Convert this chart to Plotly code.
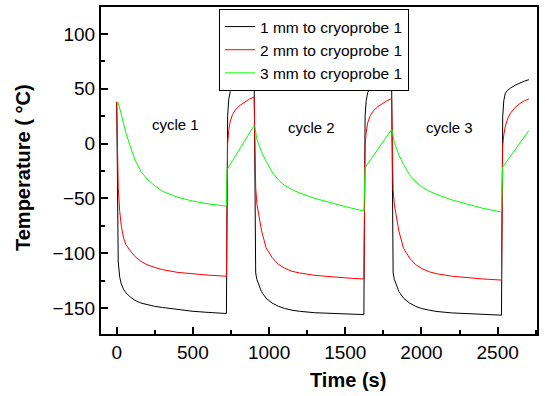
import plotly.graph_objects as go

# ---- Data ----
time_s = [
    # freeze, cycle 1
    0, 5, 10, 20, 30, 45, 60, 90, 120, 160, 200, 250, 300, 400, 500, 600, 720,
    # thaw 1
    724, 728, 735, 745, 760, 780, 810, 840, 870, 902,
    # freeze, cycle 2
    905, 908, 912, 920, 935, 950, 980, 1020, 1060, 1100, 1150, 1200, 1300, 1400, 1500, 1622,
    # thaw 2
    1626, 1630, 1637, 1647, 1662, 1682, 1712, 1742, 1772, 1804,
    # freeze, cycle 3
    1807, 1810, 1814, 1822, 1837, 1852, 1882, 1922, 1962, 2002, 2052, 2102, 2202, 2302, 2402, 2525,
    # thaw 3
    2529, 2533, 2540, 2550, 2565, 2585, 2615, 2645, 2675, 2705,
]

temp_1mm = [
    38, -60, -108, -122, -128, -133, -136, -140, -143, -145.5, -147, -148.5, -149.5, -151.5, -153, -154, -155,
    -60, 25, 40, 47.5, 51, 53.5, 55.5, 57, 58.2, 59.2,
    -40, -100, -118, -124, -130, -135, -141, -145.5, -148.3, -150.3, -152, -153, -154.3, -155, -155.5, -156,
    -60, 25, 39, 46.5, 50.5, 53, 55, 56.5, 57.5, 58.4,
    -42, -100, -118, -124, -130, -135, -141, -145.5, -148.5, -150.5, -152, -153.2, -154.5, -155.3, -156, -156.5,
    -60, 25, 39, 46, 48.5, 50.8, 53.3, 55.5, 57, 58.3,
]

temp_2mm = [
    38, 0, -40, -62, -75, -86, -92, -98, -103, -107.5, -110.5, -113, -115, -117.5, -119, -120, -121,
    -80, 0, 12, 20.5, 26.5, 31, 35, 38, 40.5, 42.6,
    0, -20, -40, -55, -68, -79, -95, -104, -110, -113.5, -116.5, -118, -120.2, -121.5, -122.5, -123.5,
    -80, -2, 10, 19, 25, 29.5, 33.5, 36.5, 39, 41,
    -2, -22, -42, -56, -69, -80, -95.5, -104.5, -110.5, -114, -117, -118.8, -121, -122.5, -123.5, -124.5,
    -80, -2, 8, 16, 22.5, 28, 33, 36.5, 39, 40.8,
]

temp_3mm = [
    38, 38, 37, 33, 27, 18, 10, -3, -15, -25.5, -32.5, -38.5, -43.5, -49, -52.5, -55, -57,
    -24, -22.8, -21, -18.8, -15.5, -11, -4.3, 2.4, 9, 16.5,
    16, 14, 10, 4, -2, -7.5, -16, -26, -33, -38, -42, -45, -50, -54, -57.5, -61.5,
    -23, -22, -20.5, -18.5, -15.5, -11.5, -5.5, 1, 6.8, 12.8,
    12, 10, 6.5, 1, -5, -10.5, -19, -28.5, -35, -39.5, -43.5, -46.5, -51.5, -55.5, -59, -62.5,
    -22.5, -21.5, -20, -18, -15, -11, -5, 1, 6.5, 11.9,
]

series_names = ["1 mm to cryoprobe 1", "2 mm to cryoprobe 1", "3 mm to cryoprobe 1"]
series_colors = ["#000000", "#ff0000", "#00ff00"]

cycle_labels = ["cycle 1", "cycle 2", "cycle 3"]
cycle_label_x = [383, 1275, 2181]
cycle_label_y = [17, 15, 15]

x_tickvals = [0, 500, 1000, 1500, 2000, 2500]
y_tickvals = [-150, -100, -50, 0, 50, 100]

FONT = "Arial, Liberation Sans, sans-serif"

W, H = 545, 396
ml, mr, mt, mb = 101, 8, 7, 62
PW, PH = W - ml - mr, H - mt - mb

fig = go.Figure()
for name, col, ys in zip(series_names, series_colors, [temp_1mm, temp_2mm, temp_3mm]):
    fig.add_trace(go.Scatter(x=time_s, y=ys, mode="lines", name=name,
                             line=dict(color=col, width=1)))

for txt, xx, yy in zip(cycle_labels, cycle_label_x, cycle_label_y):
    fig.add_annotation(x=xx, y=yy, xref="x", yref="y", text=txt, showarrow=False,
                       font=dict(family=FONT, size=15, color="black"))

# axis titles (placed as paper annotations)
fig.add_annotation(x=(348 - ml) / PW, y=(H - mb - 380) / PH, xref="paper", yref="paper",
                   text="<b>Time (s)</b>", showarrow=False, xanchor="center", yanchor="middle",
                   font=dict(family=FONT, size=20, color="black"))
fig.add_annotation(x=(23 - ml) / PW, y=(H - mb - 168) / PH, xref="paper", yref="paper",
                   text="<b>Temperature ( °C)</b>", textangle=-90, showarrow=False,
                   xanchor="center", yanchor="middle",
                   font=dict(family=FONT, size=20, color="black"))

axis_common = dict(showline=True, linecolor="black", linewidth=2, mirror=True,
                   ticks="inside", ticklen=7, tickwidth=2, tickcolor="black",
                   showgrid=False, zeroline=False, automargin=False,
                   tickfont=dict(family=FONT, size=19, color="black"))

fig.update_xaxes(range=[-103, 2758], tickvals=x_tickvals,
                 minor=dict(ticks="inside", ticklen=4, tickwidth=2, tickcolor="black",
                            dtick=250, tick0=0, showgrid=False),
                 **axis_common)
fig.update_yaxes(range=[-173.7, 124.6], tickvals=y_tickvals,
                 minor=dict(ticks="inside", ticklen=4, tickwidth=2, tickcolor="black",
                            dtick=25, tick0=0, showgrid=False),
                 **axis_common)

fig.update_layout(
    width=W, height=H,
    margin=dict(l=ml, r=mr, t=mt, b=mb, autoexpand=False),
    paper_bgcolor="white", plot_bgcolor="white",
    showlegend=True,
    legend=dict(x=(219 - ml) / PW, y=(H - mb - 9) / PH,
                xanchor="left", yanchor="top",
                bgcolor="white", bordercolor="black", borderwidth=1,
                font=dict(family=FONT, size=15.5, color="black"),
                tracegroupgap=0, itemwidth=30),
)

fig.write_html("out.html", config={"displayModeBar": False},
               post_script="document.body.style.margin='0';")
